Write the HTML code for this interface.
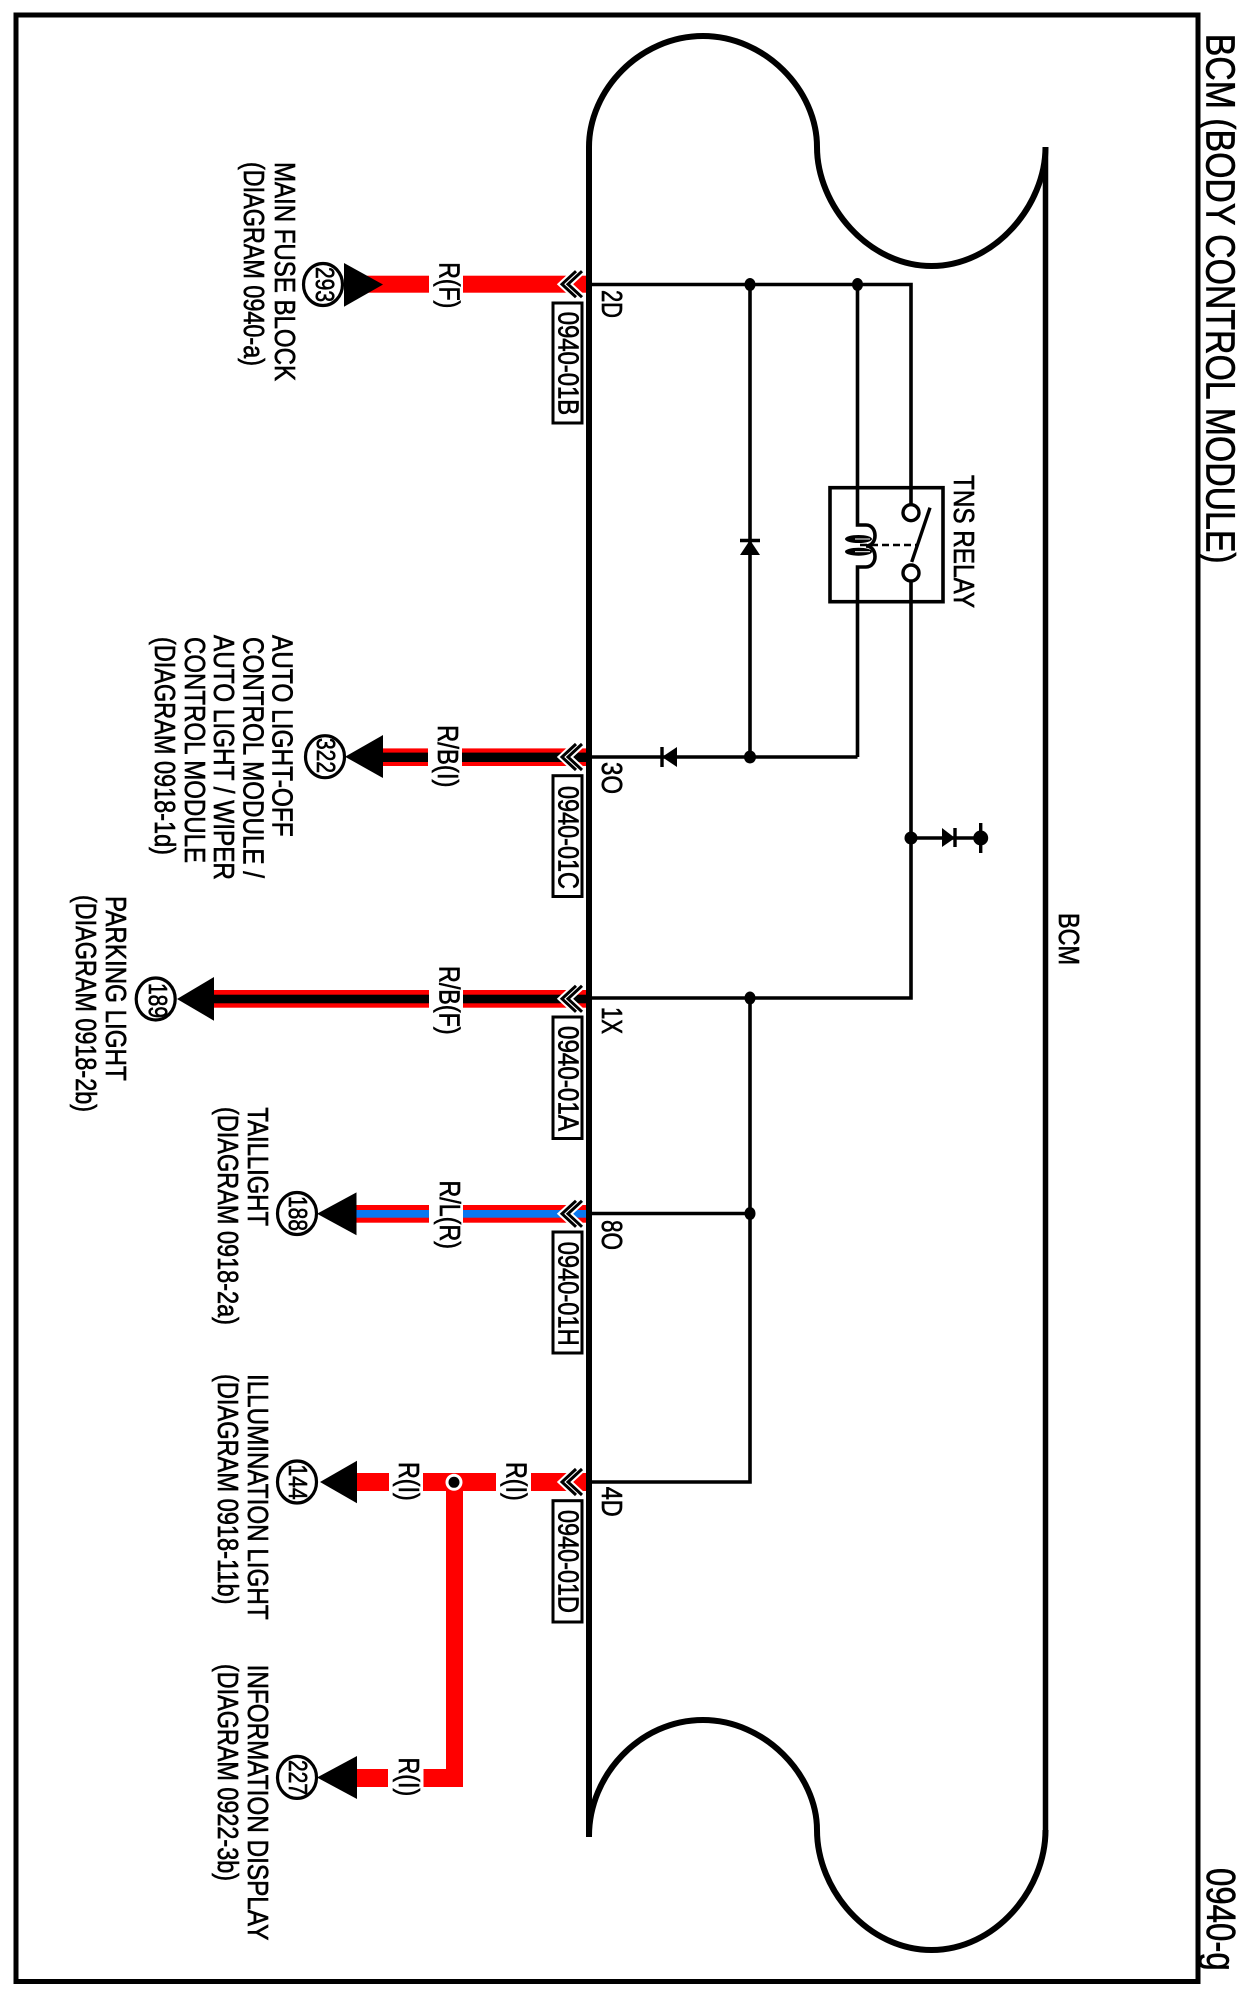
<!DOCTYPE html>
<html lang="en">
<head>
<meta charset="utf-8">
<title>BCM (Body Control Module) 0940-g</title>
<style>
html,body{margin:0;padding:0;background:#fff}
svg{display:block}
text{font-family:"Liberation Sans",Arial,sans-serif;fill:#000;stroke:#000;stroke-width:.65}
.l{font-size:28.5px}
.n{font-size:25.5px}
.t{font-size:41px}
.w{fill:none;stroke:#000;stroke-width:3.6}
</style>
</head>
<body>
<svg xmlns="http://www.w3.org/2000/svg" width="1242" height="1998" viewBox="0 0 1242 1998">
<defs>
<g id="chev">
<polyline points="582,-13 568,0 582,13" fill="none" stroke="#fff" stroke-width="7"/>
<polyline points="576,-13 562,0 576,13" fill="none" stroke="#fff" stroke-width="7"/>
<polyline points="582,-13 568,0 582,13" fill="none" stroke="#000" stroke-width="3"/>
<polyline points="576,-13 562,0 576,13" fill="none" stroke="#000" stroke-width="3"/>
</g>
</defs>
<rect width="1242" height="1998" fill="#fff"/>
<!-- frame -->
<rect x="16" y="15" width="1182" height="1966.5" fill="none" stroke="#000" stroke-width="5"/>

<!-- BCM outline -->
<path d="M589 147 C589 90 640 36 703 36 C765 36 817 90 817 147 C817 205 868 266 931.5 266 C995 266 1045.5 205 1045.5 147" fill="none" stroke="#000" stroke-width="6"/>
<path d="M589 1836 C589 1775 640 1720 703 1720 C765 1720 817 1775 817 1830 C817 1890 868 1950 931.5 1950 C995 1950 1045.5 1890 1045.5 1830" fill="none" stroke="#000" stroke-width="6"/>
<line x1="1045.5" y1="148" x2="1045.5" y2="1830" stroke="#000" stroke-width="5.5"/>

<!-- harness bands -->
<rect x="360" y="275.7" width="69" height="17" fill="#f00"/>
<rect x="463" y="275.7" width="124" height="17" fill="#f00"/>

<rect x="383" y="748.4" width="45" height="17.6" fill="#f00"/>
<rect x="462" y="748.4" width="125" height="17.6" fill="#f00"/>
<rect x="383" y="752.6" width="45" height="9.4" fill="#000"/>
<rect x="462" y="752.6" width="125" height="9.4" fill="#000"/>

<rect x="214" y="990" width="215" height="17.7" fill="#f00"/>
<rect x="463" y="990" width="124" height="17.7" fill="#f00"/>
<rect x="214" y="994.7" width="215" height="8.6" fill="#000"/>
<rect x="463" y="994.7" width="124" height="8.6" fill="#000"/>

<rect x="356" y="1205" width="73" height="17.7" fill="#f00"/>
<rect x="463" y="1205" width="124" height="17.7" fill="#f00"/>
<rect x="356" y="1210" width="73" height="7.7" fill="#0a78f0"/>
<rect x="463" y="1210" width="124" height="7.7" fill="#0a78f0"/>

<rect x="357" y="1473" width="32" height="18" fill="#f00"/>
<rect x="423" y="1473" width="73" height="18" fill="#f00"/>
<rect x="531" y="1473" width="56" height="18" fill="#f00"/>
<rect x="446" y="1473" width="17" height="314" fill="#f00"/>
<rect x="423.5" y="1769" width="39.5" height="18" fill="#f00"/>
<rect x="357" y="1769" width="31" height="18" fill="#f00"/>

<!-- junction on harness -->
<circle cx="454" cy="1482.3" r="8.5" fill="#fff"/>
<circle cx="454" cy="1482.3" r="5.5" fill="#000"/>

<!-- chevrons -->
<use href="#chev" transform="translate(0,284.2)"/>
<use href="#chev" transform="translate(0,757)"/>
<use href="#chev" transform="translate(0,998.8)"/>
<use href="#chev" transform="translate(0,1213.8)"/>
<use href="#chev" transform="translate(0,1482)"/>

<!-- main bus -->
<line x1="589" y1="147" x2="589" y2="1837" stroke="#000" stroke-width="6"/>

<!-- internal wiring -->
<path class="w" d="M589 284.5 H911 V505"/>
<path class="w" d="M911 581 V998 H589"/>
<path class="w" d="M589 757 H857.5"/>
<path class="w" d="M750 284.5 V757"/>
<path class="w" d="M750 998 V1482 H589"/>
<path class="w" d="M589 1213.5 H750"/>
<path class="w" d="M857.5 284.5 V525 H866 C878 525 878 546 866 546 C878 546 878 567 866 567 H857.5 V757"/>
<path class="w" d="M911 838 H980.7"/>

<!-- junction dots -->
<ellipse cx="750" cy="284.5" rx="5.5" ry="6.5"/>
<ellipse cx="857.5" cy="284.5" rx="5.5" ry="6.5"/>
<ellipse cx="750" cy="757" rx="6" ry="6.5"/>
<ellipse cx="750" cy="998" rx="5.5" ry="6.5"/>
<ellipse cx="750" cy="1213.5" rx="5.5" ry="6.5"/>
<ellipse cx="911" cy="838" rx="6.5" ry="6.5"/>

<!-- diodes -->
<polygon points="750,540 760,555 740,555"/>
<line x1="740" y1="540.5" x2="760" y2="540.5" stroke="#000" stroke-width="3.4"/>
<polygon points="662,757 677,747 677,767"/>
<line x1="662" y1="747" x2="662" y2="767" stroke="#000" stroke-width="3.4"/>
<polygon points="955,838 942,828 942,847"/>
<line x1="955" y1="828" x2="955" y2="847" stroke="#000" stroke-width="3.4"/>
<ellipse cx="980.7" cy="838" rx="7.5" ry="7.5"/>
<line x1="980.7" y1="823" x2="980.7" y2="853" stroke="#000" stroke-width="3.4"/>

<!-- relay -->
<rect x="830" y="487.7" width="113" height="114" fill="none" stroke="#000" stroke-width="3.6"/>
<circle cx="911" cy="512.7" r="8" fill="#fff" stroke="#000" stroke-width="3.4"/>
<circle cx="911" cy="573" r="8" fill="#fff" stroke="#000" stroke-width="3.4"/>
<line x1="930" y1="507.7" x2="911.7" y2="562" stroke="#000" stroke-width="3.4"/>
<line x1="860" y1="545" x2="918" y2="545" stroke="#000" stroke-width="2.6" stroke-dasharray="7 4"/>
<ellipse cx="858.5" cy="539" rx="13.5" ry="4"/>
<ellipse cx="858.5" cy="551.7" rx="13.5" ry="4"/>
<line x1="855" y1="539" x2="870" y2="539" stroke="#fff" stroke-width="1"/>
<line x1="855" y1="551.7" x2="870" y2="551.7" stroke="#fff" stroke-width="1"/>

<!-- terminal triangles -->
<polygon points="383,284.5 344,263 344,306.7"/>
<polygon points="345,756.7 383,735 383,778"/>
<polygon points="177,999 214,977 214,1020.7"/>
<polygon points="317,1213.8 356.5,1192.4 356.5,1235.3"/>
<polygon points="320,1482 357,1460.7 357,1503.3"/>
<polygon points="317,1777.5 357,1756 357,1799"/>

<!-- terminal circles -->
<g fill="#fff" stroke="#000" stroke-width="3.2">
<ellipse cx="323" cy="284.5" rx="19.5" ry="21"/>
<ellipse cx="325" cy="756.7" rx="19.5" ry="21"/>
<ellipse cx="155.7" cy="999" rx="19.5" ry="21"/>
<ellipse cx="297" cy="1213.5" rx="19.5" ry="21"/>
<ellipse cx="297" cy="1482" rx="19.5" ry="21"/>
<ellipse cx="297" cy="1777.4" rx="19.5" ry="21"/>
</g>
<text class="n" transform="translate(316,267) rotate(90)" textLength="35" lengthAdjust="spacingAndGlyphs">293</text>
<text class="n" transform="translate(317,738) rotate(90)" textLength="35" lengthAdjust="spacingAndGlyphs">322</text>
<text class="n" transform="translate(149,983) rotate(90)" textLength="35" lengthAdjust="spacingAndGlyphs">189</text>
<text class="n" transform="translate(289,1196) rotate(90)" textLength="35" lengthAdjust="spacingAndGlyphs">188</text>
<text class="n" transform="translate(289,1464.5) rotate(90)" textLength="35" lengthAdjust="spacingAndGlyphs">144</text>
<text class="n" transform="translate(289,1760) rotate(90)" textLength="35" lengthAdjust="spacingAndGlyphs">227</text>

<!-- connector boxes -->
<g fill="#fff" stroke="#000" stroke-width="3">
<rect x="553" y="303" width="29" height="120"/>
<rect x="553" y="775.7" width="29" height="120.8"/>
<rect x="553" y="1017" width="29" height="121.5"/>
<rect x="553" y="1232" width="29" height="121"/>
<rect x="553" y="1500.7" width="29" height="121.3"/>
</g>
<text class="l" transform="translate(558.5,311.7) rotate(90)" textLength="103.5" lengthAdjust="spacingAndGlyphs">0940-01B</text>
<text class="l" transform="translate(558.5,786) rotate(90)" textLength="103" lengthAdjust="spacingAndGlyphs">0940-01C</text>
<text class="l" transform="translate(558.5,1026) rotate(90)" textLength="105" lengthAdjust="spacingAndGlyphs">0940-01A</text>
<text class="l" transform="translate(558.5,1241.7) rotate(90)" textLength="104" lengthAdjust="spacingAndGlyphs">0940-01H</text>
<text class="l" transform="translate(558.5,1510) rotate(90)" textLength="103" lengthAdjust="spacingAndGlyphs">0940-01D</text>

<!-- pin labels -->
<text class="l" transform="translate(602,290) rotate(90)" textLength="28" lengthAdjust="spacingAndGlyphs">2D</text>
<text class="l" transform="translate(602,762) rotate(90)" textLength="32" lengthAdjust="spacingAndGlyphs">3O</text>
<text class="l" transform="translate(602,1007) rotate(90)" textLength="27" lengthAdjust="spacingAndGlyphs">1X</text>
<text class="l" transform="translate(602,1220) rotate(90)" textLength="30" lengthAdjust="spacingAndGlyphs">8O</text>
<text class="l" transform="translate(602,1486.7) rotate(90)" textLength="30" lengthAdjust="spacingAndGlyphs">4D</text>

<!-- wire labels -->
<text class="l" transform="translate(439.5,262.3) rotate(90)" textLength="46" lengthAdjust="spacingAndGlyphs">R(F)</text>
<text class="l" transform="translate(438,725) rotate(90)" textLength="62.5" lengthAdjust="spacingAndGlyphs">R/B(I)</text>
<text class="l" transform="translate(439.5,966) rotate(90)" textLength="68.6" lengthAdjust="spacingAndGlyphs">R/B(F)</text>
<text class="l" transform="translate(440,1180.5) rotate(90)" textLength="68.5" lengthAdjust="spacingAndGlyphs">R/L(R)</text>
<text class="l" transform="translate(506.7,1462) rotate(90)" textLength="38.7" lengthAdjust="spacingAndGlyphs">R(I)</text>
<text class="l" transform="translate(399,1462) rotate(90)" textLength="38.7" lengthAdjust="spacingAndGlyphs">R(I)</text>
<text class="l" transform="translate(399,1757.5) rotate(90)" textLength="38.7" lengthAdjust="spacingAndGlyphs">R(I)</text>

<!-- destination labels -->
<text class="l" transform="translate(275,162) rotate(90)" textLength="219" lengthAdjust="spacingAndGlyphs">MAIN FUSE BLOCK</text>
<text class="l" transform="translate(244,162) rotate(90)" textLength="204" lengthAdjust="spacingAndGlyphs">(DIAGRAM 0940-a)</text>

<text class="l" transform="translate(272.7,635) rotate(90)" textLength="201.7" lengthAdjust="spacingAndGlyphs">AUTO LIGHT-OFF</text>
<text class="l" transform="translate(243.3,637) rotate(90)" textLength="241" lengthAdjust="spacingAndGlyphs">CONTROL MODULE /</text>
<text class="l" transform="translate(214,635) rotate(90)" textLength="245" lengthAdjust="spacingAndGlyphs">AUTO LIGHT / WIPER</text>
<text class="l" transform="translate(185,637) rotate(90)" textLength="226" lengthAdjust="spacingAndGlyphs">CONTROL MODULE</text>
<text class="l" transform="translate(155,637) rotate(90)" textLength="218" lengthAdjust="spacingAndGlyphs">(DIAGRAM 0918-1d)</text>

<text class="l" transform="translate(106,896) rotate(90)" textLength="184.7" lengthAdjust="spacingAndGlyphs">PARKING LIGHT</text>
<text class="l" transform="translate(76,895) rotate(90)" textLength="217" lengthAdjust="spacingAndGlyphs">(DIAGRAM 0918-2b)</text>

<text class="l" transform="translate(248,1107.4) rotate(90)" textLength="118.6" lengthAdjust="spacingAndGlyphs">TAILLIGHT</text>
<text class="l" transform="translate(218,1107) rotate(90)" textLength="218" lengthAdjust="spacingAndGlyphs">(DIAGRAM 0918-2a)</text>

<text class="l" transform="translate(248,1374) rotate(90)" textLength="245.6" lengthAdjust="spacingAndGlyphs">ILLUMINATION LIGHT</text>
<text class="l" transform="translate(218,1374) rotate(90)" textLength="230.5" lengthAdjust="spacingAndGlyphs">(DIAGRAM 0918-11b)</text>

<text class="l" transform="translate(248,1664.6) rotate(90)" textLength="275.8" lengthAdjust="spacingAndGlyphs">INFORMATION DISPLAY</text>
<text class="l" transform="translate(218,1664) rotate(90)" textLength="217" lengthAdjust="spacingAndGlyphs">(DIAGRAM 0922-3b)</text>

<text class="l" transform="translate(954,475) rotate(90)" textLength="133" lengthAdjust="spacingAndGlyphs">TNS RELAY</text>
<text class="l" transform="translate(1059,913) rotate(90)" textLength="52" lengthAdjust="spacingAndGlyphs">BCM</text>

<!-- titles -->
<text class="t" transform="translate(1206.5,33.7) rotate(90)" textLength="530" lengthAdjust="spacingAndGlyphs">BCM (BODY CONTROL MODULE)</text>
<text class="t" transform="translate(1207,1868) rotate(90)" textLength="102.7" lengthAdjust="spacingAndGlyphs">0940-g</text>
</svg>
</body>
</html>
